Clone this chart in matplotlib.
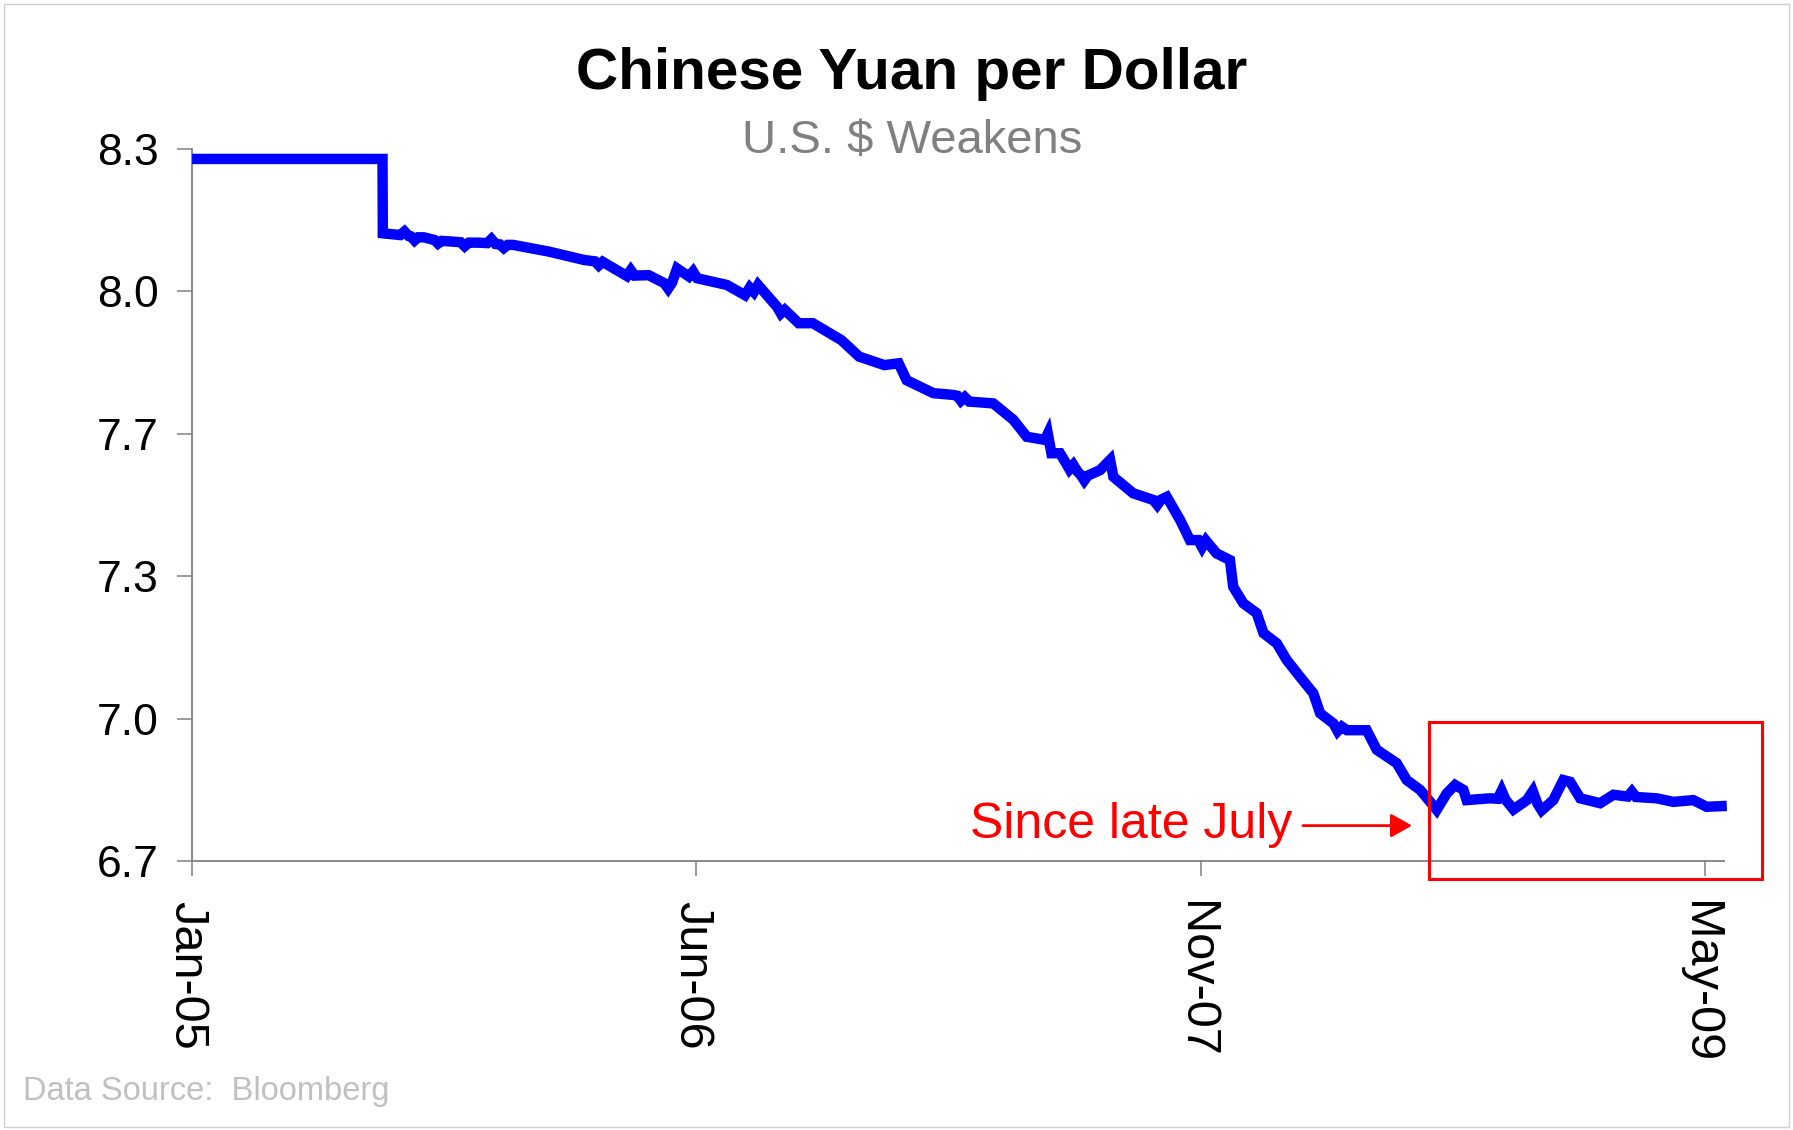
import matplotlib
matplotlib.use("Agg")
import matplotlib.pyplot as plt
from matplotlib.patches import Rectangle

plt.rcParams['font.family'] = ['Liberation Sans', 'DejaVu Sans']

# months since Jan-2005 and CNY per USD
months = [0.0, 6.42, 6.43, 7.02, 7.16, 7.30, 7.38, 7.50, 7.62, 7.81,
          8.17, 8.29, 8.41, 9.05, 9.19, 9.33, 9.61, 9.95, 10.09, 10.23,
          10.38, 10.51, 10.64, 10.82, 12.02, 13.22, 13.58, 13.71, 13.84, 14.66,
          14.79, 14.92, 15.39, 15.92, 16.05, 16.18, 16.35, 16.75, 16.89, 17.03,
          18.03, 18.64, 18.80, 18.94, 19.08, 19.72, 19.85, 19.98, 20.45, 20.93,
          21.89, 22.49, 23.34, 23.82, 24.09, 24.99, 25.66, 25.80, 25.92, 26.05,
          26.20, 27.01, 27.69, 28.14, 28.75, 28.85, 28.97, 29.26, 29.45, 29.58,
          29.71, 29.85, 29.95, 30.08, 30.20, 30.61, 30.95, 31.06, 31.73, 32.41,
          32.54, 32.67, 32.86, 33.31, 33.64, 33.92, 34.05, 34.18, 34.54, 34.99,
          35.10, 35.44, 35.89, 36.12, 36.57, 36.90, 37.35, 37.80, 38.03, 38.48,
          38.62, 38.76, 38.93, 39.60, 39.94, 40.61, 40.95, 41.40, 41.74, 41.96,
          42.30, 42.58, 42.86, 42.97, 43.76, 44.02, 44.15, 44.28, 44.55, 45.00,
          45.20, 45.35, 45.50, 45.89, 46.23, 46.46, 46.80, 47.47, 47.92, 48.40,
          48.54, 48.68, 49.38, 49.94, 50.61, 51.06, 51.74]
yuan = [8.277, 8.277, 8.110, 8.106, 8.114, 8.104, 8.103, 8.094, 8.101, 8.101,
        8.095, 8.087, 8.093, 8.090, 8.081, 8.089, 8.089, 8.088, 8.097, 8.086,
        8.085, 8.077, 8.084, 8.084, 8.069, 8.050, 8.047, 8.038, 8.046, 8.014,
        8.027, 8.015, 8.016, 7.998, 7.986, 7.999, 8.031, 8.013, 8.024, 8.009,
        7.994, 7.971, 7.988, 7.978, 7.994, 7.945, 7.930, 7.938, 7.908, 7.908,
        7.870, 7.833, 7.814, 7.818, 7.780, 7.751, 7.747, 7.745, 7.734, 7.742,
        7.732, 7.728, 7.691, 7.653, 7.646, 7.660, 7.616, 7.616, 7.595, 7.580,
        7.590, 7.575, 7.568, 7.555, 7.566, 7.578, 7.601, 7.563, 7.526, 7.511,
        7.500, 7.512, 7.518, 7.466, 7.421, 7.421, 7.405, 7.420, 7.391, 7.376,
        7.316, 7.279, 7.257, 7.212, 7.189, 7.152, 7.114, 7.077, 7.032, 7.009,
        6.992, 7.002, 6.994, 6.994, 6.950, 6.920, 6.882, 6.860, 6.833, 6.815,
        6.852, 6.871, 6.860, 6.837, 6.841, 6.840, 6.858, 6.838, 6.816, 6.837,
        6.857, 6.830, 6.814, 6.837, 6.882, 6.878, 6.841, 6.830, 6.849, 6.845,
        6.856, 6.844, 6.841, 6.833, 6.837, 6.822, 6.824]

xtick_pos = [0, 17, 34, 51]
xtick_labels = ["Jan-05", "Jun-06", "Nov-07", "May-09"]
ytick_pos = [6.7, 7.02, 7.34, 7.66, 7.98, 8.3]
ytick_labels = ["6.7", "7.0", "7.3", "7.7", "8.0", "8.3"]

W, H = 1793, 1130
fig = plt.figure(figsize=(W / 100, H / 100), dpi=100)
ax = fig.add_axes([192.1 / W, 1 - 861.1 / H, (1724.4 - 192.1) / W, (861.1 - 148.7) / H])

ax.plot(months, yuan, color='#0000ff', lw=7.5, solid_joinstyle='miter',
        solid_capstyle='butt', clip_on=False, zorder=3)

ax.set_xlim(0, 51.66)
ax.set_ylim(6.7, 8.3)
ax.set_xticks(xtick_pos)
ax.set_xticklabels(xtick_labels, rotation=270, fontsize=35,
                   rotation_mode='anchor', ha='left', va='center_baseline')
ax.set_yticks(ytick_pos)
ax.set_yticklabels(ytick_labels, fontsize=32)

for s in ['top', 'right']:
    ax.spines[s].set_visible(False)
for s in ['left', 'bottom']:
    ax.spines[s].set_color('#808080')
    ax.spines[s].set_linewidth(1.3)
ax.tick_params(axis='x', direction='out', length=11, width=1.1, color='#808080', pad=18)
ax.tick_params(axis='y', direction='out', length=11, width=1.1, color='#808080', pad=13)

# titles
fig.text(912 / W, 1 - 89 / H, "Chinese Yuan per Dollar", ha='center', va='baseline',
         fontsize=42, fontweight='bold', color='black')
fig.text(912 / W, 1 - 153 / H, "U.S. $ Weakens", ha='center', va='baseline',
         fontsize=34, color='#808080')

# annotation
fig.text(1292 / W, 1 - 838 / H, "Since late July", ha='right', va='baseline',
         fontsize=36, color='red')
ax.annotate("", xy=(1412 / W, 1 - 825.6 / H), xycoords='figure fraction',
            xytext=(1303 / W, 1 - 825.6 / H), textcoords='figure fraction',
            arrowprops=dict(arrowstyle='-|>,head_length=0.64,head_width=0.36',
                            mutation_scale=20, lw=2, color='red',
                            shrinkA=0, shrinkB=0))
fig.patches.append(Rectangle((1429.3 / W, 1 - 879.4 / H), (1762 - 1429.3) / W,
                             (879.4 - 722.3) / H, transform=fig.transFigure,
                             fill=False, edgecolor='red', lw=2.2, zorder=5))

fig.text(23 / W, 1 - 1100 / H, "Data Source:  Bloomberg", ha='left', va='baseline',
         fontsize=23.5, color='#c0c0c0')

# thin frame around the chart
fig.patches.append(Rectangle((4 / W, 3 / H), (W - 8) / W, (H - 7) / H,
                             transform=fig.transFigure, fill=False,
                             edgecolor='#d0d0d0', lw=1))

fig.savefig("out.png", dpi=100)
